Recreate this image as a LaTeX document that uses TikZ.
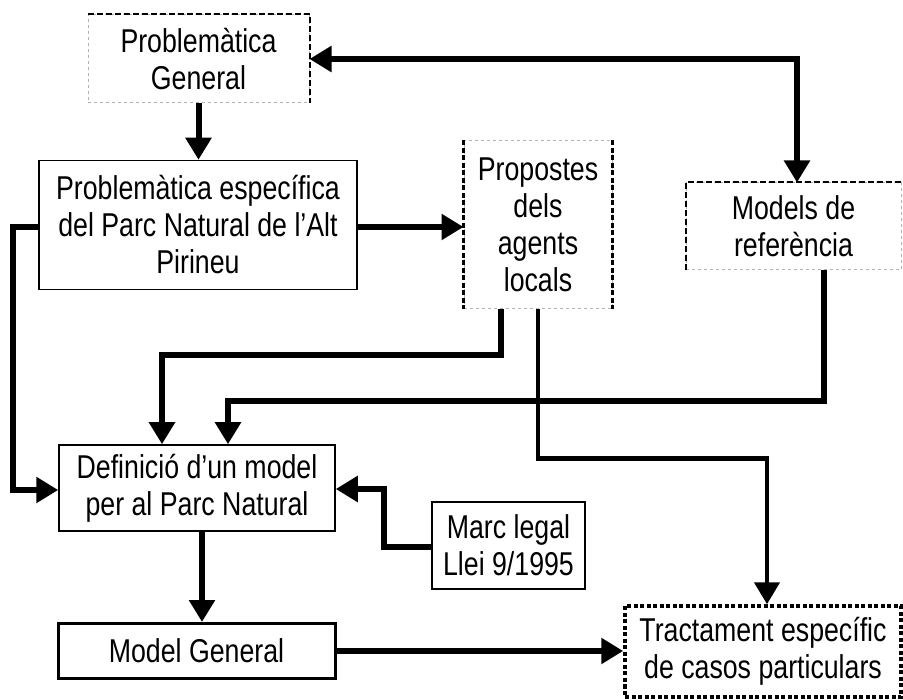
\documentclass[tikz,border=0pt]{standalone}
\usepackage{fontspec}
\setmainfont{Liberation Sans}[FakeStretch=0.81]
\usetikzlibrary{positioning, arrows.meta, calc}

\begin{document}
\begin{tikzpicture}[
  x=1pt, y=-1pt,
  box/.style={draw, line width=1.5pt, align=center, inner sep=0pt, font=\fontsize{33}{37}\selectfont},
  softbox/.style={box, draw=black!30, dashed, line width=1pt},
  blackedge/.style={dashed, line width=2pt, dash pattern=on 6pt off 3pt},
  flow/.style={-{Triangle[width=25pt,length=22pt]}, line width=6pt, line join=miter},
  ]

  \useasboundingbox (0,0) rectangle (903,700);

  % boxes
  \node[softbox, minimum width=221pt, minimum height=88pt] (pg) at (198.5,59) {Problemàtica\\General};
  \node[box, minimum width=318pt, minimum height=129pt] (pe) at (198,225) {Problemàtica específica\\del Parc Natural de l’Alt\\Pirineu};
  \node[softbox, minimum width=148pt, minimum height=168pt] (prop) at (538,225) {Propostes\\dels\\agents\\locals};
  \node[softbox, minimum width=215pt, minimum height=87pt] (mref) at (793.5,226.5) {Models de\\referència};
  \node[box, minimum width=276pt, minimum height=86pt] (def) at (197,488) {Definició d’un model\\per al Parc Natural};
  \node[box, minimum width=153pt, minimum height=87pt] (marc) at (508.5,545.5) {Marc legal\\Llei 9/1995};
  \node[box, line width=3pt, minimum width=277pt, minimum height=55pt] (mg) at (196.5,651) {Model General};
  \node[box, line width=3.5pt, dash pattern=on 4pt off 2.5pt, minimum width=276pt, minimum height=91pt] (tract) at (763,651.5) {Tractament específic\\de casos particulars};

  % black edges of the dashed boxes
  \draw[blackedge] (pg.north west) -- (pg.north east) -- (pg.south east);
  \draw[blackedge] (mref.south west) -- (mref.north west) -- (mref.north east);
  \draw[blackedge, line width=3.5pt, dash pattern=on 5pt off 2.5pt] (prop.north west) -- (prop.south west) (prop.north east) -- (prop.south east);

  % connectors
  \draw[flow] (pg.south) -- (pg.south |- pe.north);
  \draw[flow, {Triangle[width=25pt,length=22pt]}-{Triangle[width=25pt,length=22pt]}] (pg.east) -| ([xshift=3.5pt]mref.north);
  \draw[flow] ([yshift=-2pt]pe.east) -- ([yshift=-2pt]pe.east -| prop.west);
  \draw[flow] ([yshift=-2pt]pe.west) -- ++(-25,0) |- ([yshift=-2pt]def.west);
  \draw[flow] ([xshift=-37pt]prop.south) -- ++(0,46) -| ([xshift=-35pt]def.north);
  \draw[flow] ([xshift=30.5pt]mref.south) -- ++(0,131) -| ([xshift=31pt]def.north);
  \draw[flow, line width=4.5pt] (prop.south) -- ++(0,149) -| ([xshift=4pt]tract.north);
  \draw[flow] ([yshift=-1.5pt]marc.west) -- ++(-47,0) |- ([yshift=-1pt]def.east);
  \draw[flow] ([xshift=5pt]def.south) -- ([xshift=5pt]def.south |- mg.north);
  \draw[flow] (mg.east) -- (mg.east -| tract.west);

\end{tikzpicture}
\end{document}
